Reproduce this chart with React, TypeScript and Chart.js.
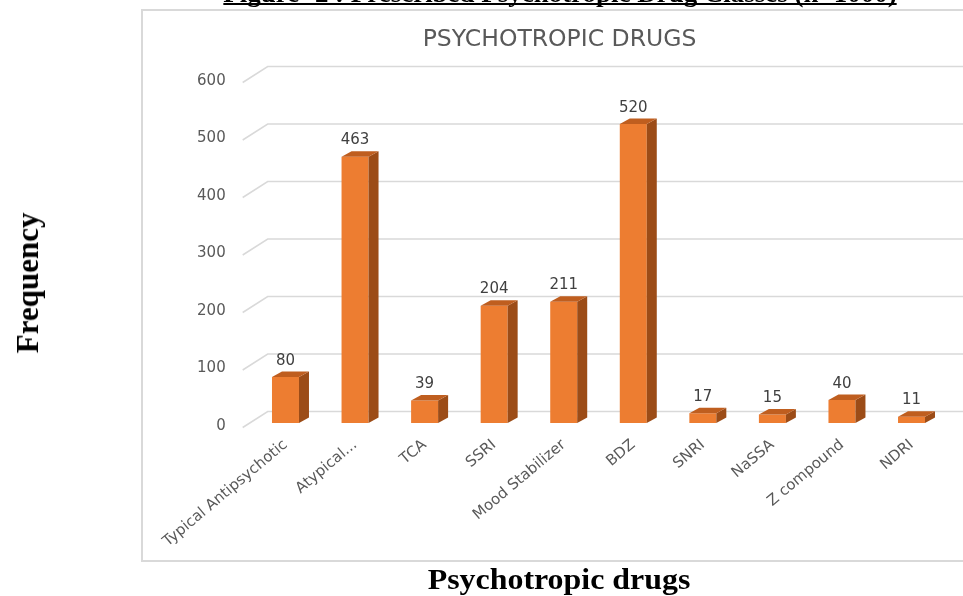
import React, { useEffect, useRef } from "react";
import { Chart, registerables } from "chart.js";

Chart.register(...registerables);

const categories = [
  "Typical Antipsychotic",
  "Atypical...",
  "TCA",
  "SSRI",
  "Mood Stabilizer",
  "BDZ",
  "SNRI",
  "NaSSA",
  "Z compound",
  "NDRI",
];
const frequencies = [80, 463, 39, 204, 211, 520, 17, 15, 40, 11];
const yMin = 0;
const yMax = 600;
const yStep = 100;

const chartTitle = "PSYCHOTROPIC DRUGS";
const figureTitle = "Figure -2 : Prescribed Psychotropic Drug Classes (n=1000)";
const yAxisTitle = "Frequency";
const xAxisTitle = "Psychotropic drugs";

const FRONT = "#ED7D31";
const SIDE = "#9C4C17";
const TOP = "#BF5E1F";
const GRID = "#D9D9D9";
const DEPTH_X = 10;
const DEPTH_Y = 5.5;
const FONT = "'DejaVu Sans'";

const floorPlugin = {
  id: "floor3d",
  beforeDatasetsDraw(chart: any) {
    const { ctx, chartArea } = chart;
    const ys = chart.scales.y;
    ctx.save();
    ctx.strokeStyle = GRID;
    ctx.lineWidth = 1.5;
    ys.ticks.forEach((t: any) => {
      const py = ys.getPixelForValue(t.value);
      ctx.beginPath();
      ctx.moveTo(chartArea.left - 8, py + 4.5);
      ctx.lineTo(chartArea.left + 17, py - 11.5);
      ctx.lineTo(chart.width, py - 11.5);
      ctx.stroke();
    });
    ctx.restore();
  },
};

const titlePlugin = {
  id: "boxTitle",
  afterDraw(chart: any) {
    const { ctx } = chart;
    ctx.save();
    ctx.fillStyle = "#595959";
    ctx.font = `23.5px ${FONT}`;
    ctx.textAlign = "center";
    ctx.textBaseline = "middle";
    ctx.fillText(chartTitle, 559.5, 40);
    ctx.restore();
  },
};

const barsPlugin = {
  id: "bars3d",
  afterDatasetsDraw(chart: any) {
    const { ctx } = chart;
    const meta = chart.getDatasetMeta(0);
    const data = chart.data.datasets[0].data;
    ctx.save();
    meta.data.forEach((bar: any, i: number) => {
      const { x, y, base, width } = bar.getProps(["x", "y", "base", "width"], true);
      const l = x - width / 2;
      const r = x + width / 2;
      ctx.fillStyle = SIDE;
      ctx.beginPath();
      ctx.moveTo(r, y);
      ctx.lineTo(r + DEPTH_X, y - DEPTH_Y);
      ctx.lineTo(r + DEPTH_X, base - DEPTH_Y);
      ctx.lineTo(r, base);
      ctx.closePath();
      ctx.fill();
      ctx.fillStyle = TOP;
      ctx.beginPath();
      ctx.moveTo(l, y);
      ctx.lineTo(l + DEPTH_X, y - DEPTH_Y);
      ctx.lineTo(r + DEPTH_X, y - DEPTH_Y);
      ctx.lineTo(r, y);
      ctx.closePath();
      ctx.fill();
      ctx.fillStyle = "#404040";
      ctx.font = `15px ${FONT}`;
      ctx.textAlign = "center";
      ctx.textBaseline = "alphabetic";
      ctx.fillText(String(data[i]), x, y - 12.5);
    });
    ctx.restore();
  },
};

export default function App() {
  const ref = useRef<HTMLCanvasElement>(null);

  useEffect(() => {
    if (!ref.current) return;
    const chart = new Chart(ref.current, {
      type: "bar",
      data: {
        labels: categories,
        datasets: [
          {
            data: frequencies,
            backgroundColor: FRONT,
            borderWidth: 0,
            categoryPercentage: 1,
            barPercentage: 0.388,
          },
        ],
      },
      options: {
        responsive: false,
        animation: false,
        devicePixelRatio: 1,
        layout: { padding: { left: 150.7, right: 16.7, top: 78, bottom: 0 } },
        plugins: {
          legend: { display: false },
          tooltip: { enabled: false },
          title: { display: false },
        },
        scales: {
          x: {
            grid: { display: false, drawTicks: false },
            border: { display: false },
            ticks: {
              color: "#595959",
              font: { family: FONT, size: 15 },
              minRotation: 40,
              maxRotation: 40,
              autoSkip: false,
              padding: 13,
            },
            afterFit(scale: any) {
              scale.height = 173;
            },
          },
          y: {
            min: yMin,
            max: yMax,
            grid: { display: false, drawTicks: false },
            border: { display: false },
            ticks: {
              stepSize: yStep,
              color: "#595959",
              font: { family: FONT, size: 15 },
              padding: 25,
              labelOffset: 3,
            },
            afterFit(scale: any) {
              scale.width = 100;
            },
          },
        },
      },
      plugins: [floorPlugin, barsPlugin, titlePlugin],
    });
    return () => chart.destroy();
  }, []);

  return (
    <div
      style={{
        position: "fixed",
        left: 0,
        top: 0,
        width: 963,
        height: 596,
        overflow: "hidden",
        background: "#fff",
      }}
    >
      <div
        style={{
          position: "absolute",
          left: 141,
          top: 9,
          width: 900,
          height: 553,
          border: "2px solid #D9D9D9",
          boxSizing: "border-box",
          background: "#fff",
        }}
      />
      <canvas
        ref={ref}
        width={963}
        height={596}
        style={{ position: "absolute", left: 0, top: 0 }}
      />
      <div
        style={{
          position: "absolute",
          left: 560,
          top: -20,
          transform: "translateX(-50%) scaleX(1.1)",
          whiteSpace: "nowrap",
          fontFamily: "'Liberation Serif', 'Times New Roman', serif",
          fontWeight: "bold",
          fontSize: 24.5,
          lineHeight: "27px",
          textDecoration: "underline",
          textDecorationThickness: "2px",
          textDecorationSkipInk: "none",
          color: "#000",
        }}
      >
        {figureTitle}
      </div>
      <div
        style={{
          position: "absolute",
          left: 28,
          top: 283,
          transform: "translate(-50%, -50%) rotate(-90deg)",
          whiteSpace: "nowrap",
          fontFamily: "'Liberation Serif', 'Times New Roman', serif",
          fontWeight: "bold",
          fontSize: 31,
          lineHeight: "34px",
          color: "#000",
        }}
      >
        {yAxisTitle}
      </div>
      <div
        style={{
          position: "absolute",
          left: 559,
          top: 563,
          transform: "translateX(-50%) scaleX(1.1)",
          whiteSpace: "nowrap",
          fontFamily: "'Liberation Serif', 'Times New Roman', serif",
          fontWeight: "bold",
          fontSize: 29,
          lineHeight: "32px",
          color: "#000",
        }}
      >
        {xAxisTitle}
      </div>
    </div>
  );
}
